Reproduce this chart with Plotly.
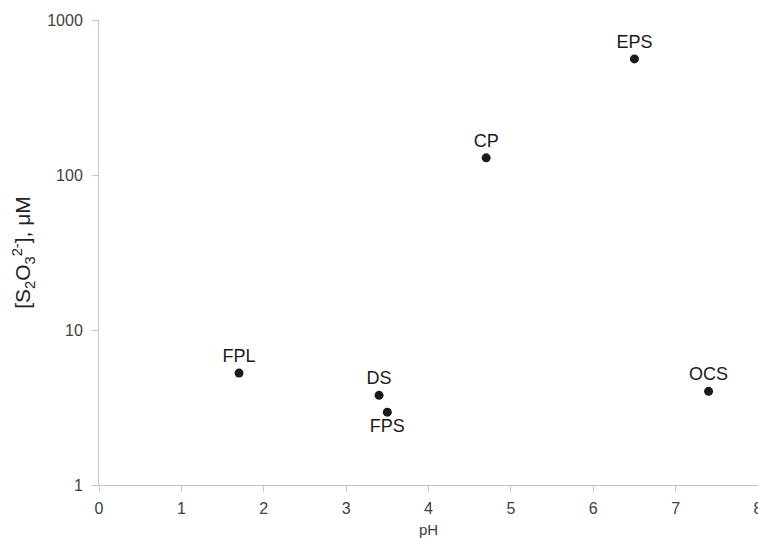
import plotly.graph_objects as go

sites = ["FPL", "DS", "FPS", "CP", "EPS", "OCS"]
ph = [1.7, 3.4, 3.5, 4.7, 6.5, 7.4]
thiosulfate = [5.27, 3.79, 2.95, 129, 561, 4.02]
label_pos = ["top center", "top center", "bottom center", "top center", "top center", "top center"]

x_ticks = [0, 1, 2, 3, 4, 5, 6, 7, 8]
y_ticks = [1, 10, 100, 1000]

FONT = "Liberation Sans, Arial, sans-serif"

fig = go.Figure()
fig.add_trace(go.Scatter(
    x=ph, y=thiosulfate, mode="markers+text",
    text=sites, textposition=label_pos,
    marker=dict(size=9, color="#1a1a1a"),
    textfont=dict(family=FONT, size=18, color="#1a1a1a"),
    cliponaxis=False, showlegend=False,
))

axis_common = dict(
    showgrid=False, zeroline=False, showline=True, linecolor="#c4c4c4", linewidth=1,
    ticks="outside", ticklen=6, tickcolor="#c4c4c4",
    tickfont=dict(family=FONT, size=16, color="#404040"),
    ticklabeloverflow="allow",
)

fig.update_xaxes(range=[0, 8], tickvals=x_ticks, ticktext=[str(v) for v in x_ticks],
                 ticklabelstandoff=3, automargin=False,
                 title=dict(text="pH", font=dict(family=FONT, size=15, color="#404040"), standoff=9),
                 **axis_common)
fig.update_yaxes(type="log", range=[0, 3], tickvals=y_ticks, ticktext=[str(v) for v in y_ticks],
                 ticklabelstandoff=6,
                 title=dict(text="[S<sub>2</sub>O<sub>3</sub><sup>2-</sup>], μM",
                            font=dict(family=FONT, size=21, color="#222222"), standoff=10),
                 **axis_common)

fig.update_layout(
    width=758, height=538,
    margin=dict(l=99, r=0, t=20, b=53),
    plot_bgcolor="white", paper_bgcolor="white",
)

fig.write_html("out.html")
